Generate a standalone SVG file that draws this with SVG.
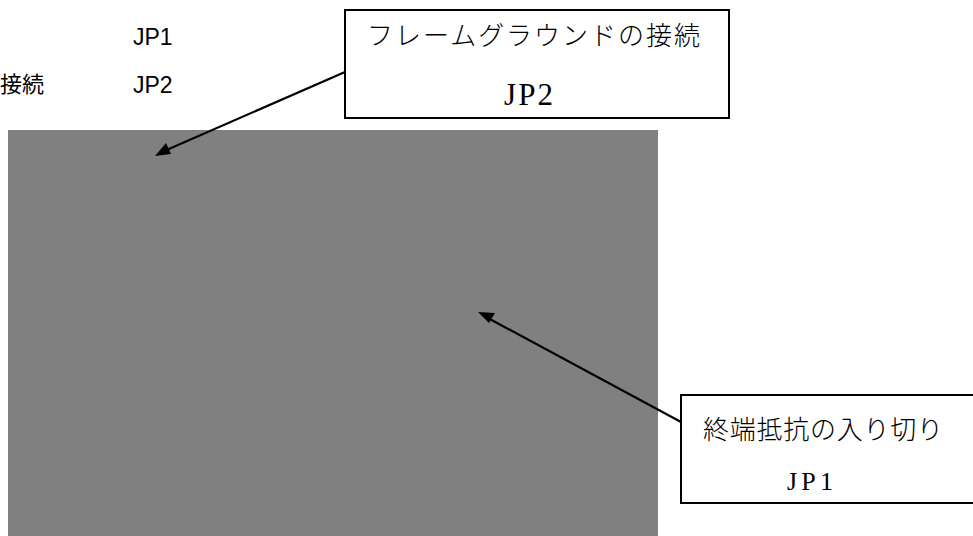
<svg xmlns="http://www.w3.org/2000/svg" width="973" height="536" viewBox="0 0 973 536">
<style>
.box{fill:#fff;stroke:#000;stroke-width:2}
.jp{font-family:"Liberation Serif","Noto Sans CJK JP",serif;fill:#000}
.sans{font-family:"Liberation Sans","Noto Sans CJK JP",sans-serif;fill:#000}
.conn{stroke:#000;stroke-width:2.2;fill:none}
</style>
<rect id="board" x="8" y="130" width="650" height="406" fill="#808080"/>
<g id="legend">
<text class="sans" x="133" y="45" font-size="23">JP1</text>
<text class="sans" x="44" y="92" font-size="22" text-anchor="end">接続</text>
<text class="sans" x="133" y="93" font-size="23">JP2</text>
</g>
<g id="fg-label">
<rect class="box" x="345" y="10" width="384" height="108"/>
<text class="jp" x="367" y="45" font-size="26" font-weight="300" textLength="333" lengthAdjust="spacing">フレームグラウンドの接続</text>
<text class="jp" x="504" y="105" font-size="31" textLength="49" lengthAdjust="spacing">JP2</text>
</g>
<g id="term-label">
<rect class="box" x="681" y="395" width="300" height="108"/>
<text class="jp" x="703" y="439" font-size="26" font-weight="300" textLength="240" lengthAdjust="spacing">終端抵抗の入り切り</text>
<text class="jp" x="787" y="490" font-size="26" textLength="46" lengthAdjust="spacing">JP1</text>
</g>
<g id="connectors">
<line class="conn" x1="345" y1="72" x2="162" y2="152"/>
<path d="M155,156 L166,143 L171,154 Z" fill="#000"/>
<line class="conn" x1="681" y1="422" x2="486" y2="317"/>
<path d="M478,312 L495,313 L489,323 Z" fill="#000"/>
</g>
</svg>
